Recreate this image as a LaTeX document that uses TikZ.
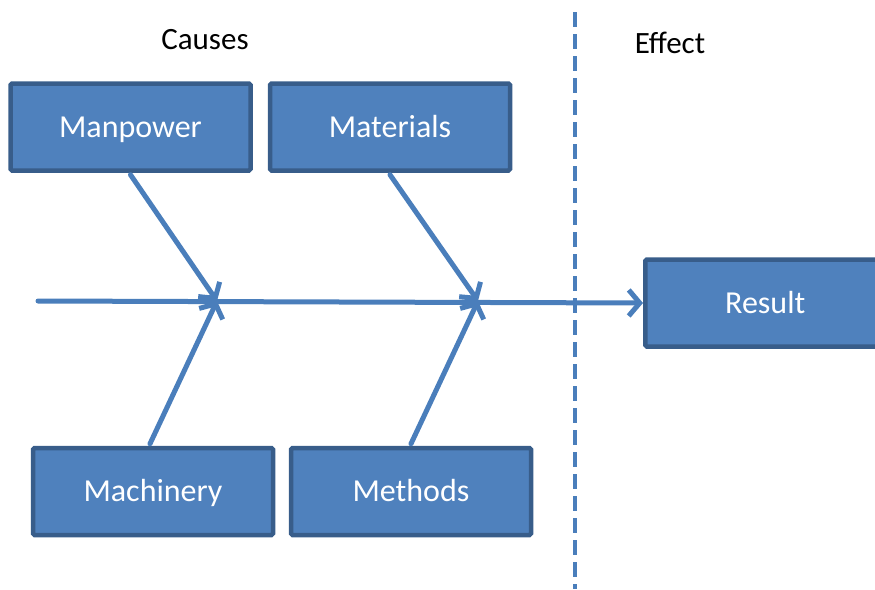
\documentclass[tikz,border=0pt]{standalone}
\usepackage{fontspec}
\setmainfont{Carlito}
\usetikzlibrary{arrows.meta}
\definecolor{boxfill}{HTML}{4F81BD}
\definecolor{boxline}{HTML}{385D8A}
\definecolor{bone}{HTML}{4A7EBB}
\begin{document}
\begin{tikzpicture}[x=1pt,y=-1pt,
  cause/.style={draw=boxline, line width=4.5pt, fill=boxfill, rounded corners=1.5pt,
    minimum width=240pt, minimum height=87pt, inner sep=0pt, text=white,
    text height=20pt, text depth=0pt,
    font=\fontsize{32}{38}\selectfont},
  bonearrow/.style={draw=bone, line width=5pt, line cap=round,
    -{Straight Barb[length=11pt,width=26pt,line width=5pt]}},
  heading/.style={font=\fontsize{31}{36}\selectfont, text=black}]
\useasboundingbox (0,0) rectangle (875,589);
\begin{scope}
\clip (0,0) rectangle (875,589);
% cause boxes
\node[cause] (manpower) at (130.5,127) {Manpower};
\node[cause] (materials) at (390,127) {Materials};
\node[cause] (machinery) at (153,491.5) {Machinery};
\node[cause] (methods) at (411,491.5) {Methods};
\node[cause, anchor=west] (result) at (643,303) {Result};
% headings
\node[heading] (causes) at (205,40) {Causes};
\node[heading] (effect) at (670,43) {Effect};
% joints on the spine
\coordinate (tail) at (38,301);
\coordinate (j1) at (217,301);
\coordinate (j2) at (478,301);
% divider between causes and effect
\coordinate (dtop) at (575,12);
\coordinate (dbot) at (575,589);
\draw[bone, line width=4.5pt, dash pattern=on 15pt off 7pt] (dtop) -- (dbot);
% spine
\draw[bonearrow] (tail) -- (result.west);
% ribs
\draw[bonearrow] (manpower.south) ++(0,2) -- (j1);
\draw[bonearrow] (machinery.north) ++(-3,-2) -- (j1);
\draw[bonearrow] (materials.south) ++(0,2) -- (j2);
\draw[bonearrow] (methods.north) ++(0,-2) -- (j2);
\end{scope}
\end{tikzpicture}
\end{document}
